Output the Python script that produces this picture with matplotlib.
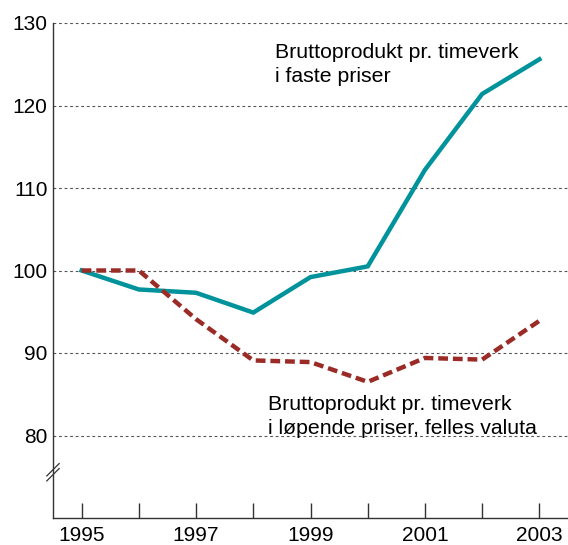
import numpy as np
import matplotlib.pyplot as plt

plt.rcParams['font.family'] = ['Liberation Sans', 'DejaVu Sans']

# data
years = [1995, 1996, 1997, 1998, 1999, 2000, 2001, 2002, 2003]
faste = [100.0, 97.7, 97.3, 94.9, 99.2, 100.5, 112.2, 121.4, 125.6]
lopende = [100.0, 100.0, 94.1, 89.1, 88.9, 86.5, 89.4, 89.2, 93.9]
yticks = [80, 90, 100, 110, 120, 130]
xticks = [1995, 1997, 1999, 2001, 2003]

fig = plt.figure(figsize=(5.68, 5.45), dpi=100)
ax = fig.add_axes([53 / 568, 27 / 545, 515 / 568, 495 / 545])

ax.set_xlim(1994.5, 2003.5)
ax.set_ylim(70, 130)

for y in yticks:
    ax.axhline(y, color='#555555', lw=0.8, ls=(0, (2.5, 2.5)), zorder=1)

ax.plot(years, faste, color='#00939b', lw=3.2, solid_joinstyle='miter', zorder=3)
ax.plot(years, lopende, color='#9b2b26', lw=3.2, ls=(0, (2.2, 1.1)), zorder=3)

ax.text(1998.38, 125.0, 'Bruttoprodukt pr. timeverk\ni faste priser',
        fontsize=15.3, va='center', ha='left', linespacing=1.35)
ax.text(1998.25, 82.3, 'Bruttoprodukt pr. timeverk\ni l\u00f8pende priser, felles valuta',
        fontsize=15.3, va='center', ha='left', linespacing=1.3)

ax.set_yticks(yticks)
ax.set_yticklabels([str(v) for v in yticks], fontsize=15)
ax.set_xticks(years)
ax.set_xticklabels([str(y) if y in xticks else '' for y in years], fontsize=15)
ax.tick_params(axis='y', length=0, pad=4)
ax.tick_params(axis='x', direction='in', length=11, width=1, color='#333333', pad=6)

for s in ['top', 'right']:
    ax.spines[s].set_visible(False)
ax.spines['left'].set_bounds(70, 130)
for s in ['left', 'bottom']:
    ax.spines[s].set_color('#333333')
    ax.spines[s].set_linewidth(1.0)

# axis break mark on the y axis
ax.plot([-0.012, 0.012], [0.075, 0.1], transform=ax.transAxes, color='#333333', lw=0.9, clip_on=False)
ax.plot([-0.012, 0.012], [0.085, 0.11], transform=ax.transAxes, color='#333333', lw=0.9, clip_on=False)

fig.savefig('out.png', dpi=100)
